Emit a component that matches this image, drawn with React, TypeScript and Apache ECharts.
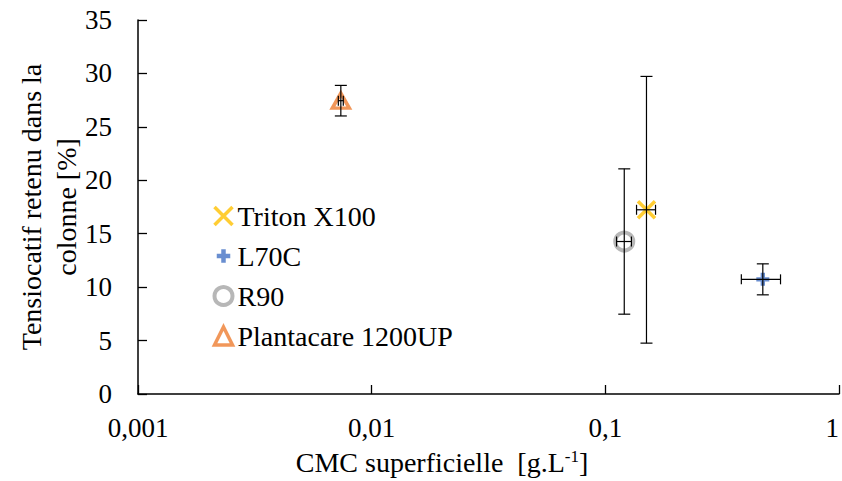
import React, { useEffect, useRef } from 'react';
import * as echarts from 'echarts';

// ---- Data ----
const seriesNames = ['Triton X100', 'L70C', 'R90', 'Plantacare 1200UP'];
const cmcValues = [0.15, 0.472, 0.1205, 0.00738]; // g/L (log x-axis)
const cmcErrors = [0.014, 0.09, 0.0088, 0.00018];
const retainedValues = [17.24, 10.73, 14.27, 27.45]; // %
const retainedErrors = [12.48, 1.45, 6.8, 1.43];
const seriesColors = ['#FFC000', '#4472C4', '#A5A5A5', '#ED7D31'];
const xTickLabels = ['0,001', '0,01', '0,1', '1'];
const yTickLabels = ['0', '5', '10', '15', '20', '25', '30', '35'];

const FONT = 'Liberation Serif';
const X_PATH = 'path://M0,0L10,10M10,0L0,10';
const PLUS_PATH = 'path://M-1,-3H1V-1H3V1H1V3H-1V1H-3V-1H-1Z';
const PLUS_ICON = 'path://M-4,-4M-1,-3H1V-1H3V1H1V3H-1V1H-3V-1H-1ZM4,4';

const symbolDefs = [
  { symbol: X_PATH, icon: X_PATH, size: 17 as any, style: { color: 'none', borderColor: seriesColors[0], borderWidth: 3.5 } },
  { symbol: PLUS_PATH, icon: PLUS_ICON, size: 13 as any, style: { color: seriesColors[1], borderWidth: 0 } },
  { symbol: 'circle', icon: 'circle', size: 18 as any, style: { color: 'none', borderColor: seriesColors[2], borderWidth: 4 } },
  { symbol: 'triangle', icon: 'triangle', size: [17, 15] as any, style: { color: 'none', borderColor: seriesColors[3], borderWidth: 3.5 } },
];

export default function App() {
  const ref = useRef<HTMLDivElement>(null);
  useEffect(() => {
    if (!ref.current) return;
    const chart = echarts.init(ref.current, null, { renderer: 'svg' });

    const scatterSeries = seriesNames.map((name, i) => ({
      type: 'scatter',
      name,
      data: [[cmcValues[i], retainedValues[i]]],
      symbol: symbolDefs[i].symbol,
      symbolSize: symbolDefs[i].size,
      itemStyle: symbolDefs[i].style,
      z: 2,
      silent: true,
    }));

    const errorSeries = {
      type: 'custom',
      name: 'errorBars',
      silent: true,
      z: 4,
      data: seriesNames.map((_, i) => [cmcValues[i], retainedValues[i], cmcErrors[i], retainedErrors[i]]),
      encode: { x: 0, y: 1 },
      renderItem: (params: any, api: any) => {
        const x = api.value(0);
        const y = api.value(1);
        const ex = api.value(2);
        const ey = api.value(3);
        const top = api.coord([x, y + ey]);
        const bot = api.coord([x, y - ey]);
        const left = api.coord([x - ex, y]);
        const right = api.coord([x + ex, y]);
        const cw = 6;
        const ch = 5;
        const st = () => ({ stroke: '#000', lineWidth: 1.2 });
        const children: any[] = [
          { type: 'line', shape: { x1: top[0], y1: top[1], x2: bot[0], y2: bot[1] }, style: st() },
          { type: 'line', shape: { x1: top[0] - cw, y1: top[1], x2: top[0] + cw, y2: top[1] }, style: st() },
          { type: 'line', shape: { x1: bot[0] - cw, y1: bot[1], x2: bot[0] + cw, y2: bot[1] }, style: st() },
          { type: 'line', shape: { x1: left[0], y1: left[1], x2: right[0], y2: right[1] }, style: st() },
          { type: 'line', shape: { x1: left[0], y1: left[1] - ch, x2: left[0], y2: left[1] + ch }, style: st() },
          { type: 'line', shape: { x1: right[0], y1: right[1] - ch, x2: right[0], y2: right[1] + ch }, style: st() },
        ];
        return { type: 'group', children };
      },
    };

    chart.setOption({
      animation: false,
      backgroundColor: '#fff',
      textStyle: { fontFamily: FONT },
      grid: { left: 138, right: 3, top: 20, bottom: 87, containLabel: false, outerBoundsMode: 'none' },
      legend: {
        orient: 'vertical',
        left: 207,
        top: 197,
        itemGap: 12,
        itemWidth: 18,
        itemHeight: 18,
        selectedMode: false,
        textStyle: { fontFamily: FONT, fontSize: 28, color: '#000' },
        data: seriesNames.map((name, i) => ({
          name,
          icon: symbolDefs[i].icon,
          itemStyle: symbolDefs[i].style,
        })),
      },
      xAxis: {
        type: 'log',
        logBase: 10,
        min: 0.001,
        max: 1,
        name: 'CMC superficielle  [g.L{sup|-1}]',
        nameLocation: 'middle',
        nameGap: 54,
        nameMoveOverlap: false,
        nameTextStyle: {
          fontFamily: FONT,
          fontSize: 28,
          color: '#000',
          lineHeight: 28,
          padding: [0, 93, 0, 0],
          rich: {
            sup: { fontFamily: FONT, fontSize: 17, color: '#000', verticalAlign: 'top', lineHeight: 17 },
          },
        },
        axisLine: { lineStyle: { color: '#000', width: 1.5 } },
        axisTick: { inside: true, length: 9, lineStyle: { color: '#000', width: 1.3 } },
        minorTick: { show: false },
        splitLine: { show: false },
        axisLabel: {
          fontFamily: FONT,
          fontSize: 27,
          color: '#000',
          margin: 20,
          alignMaxLabel: 'right',
          formatter: (v: number) => xTickLabels[Math.round(Math.log10(v)) + 3],
        },
      },
      yAxis: {
        type: 'value',
        min: 0,
        max: 35,
        interval: 5,
        name: 'Tensiocatif retenu dans la\ncolonne [%]',
        nameLocation: 'middle',
        nameGap: 54,
        nameMoveOverlap: false,
        nameTextStyle: { fontFamily: FONT, fontSize: 28, color: '#000', lineHeight: 35 },
        axisLine: { show: true, lineStyle: { color: '#000', width: 1.5 } },
        axisTick: { show: true, inside: true, length: 9, lineStyle: { color: '#000', width: 1.3 } },
        splitLine: { show: false },
        axisLabel: {
          fontFamily: FONT,
          fontSize: 27,
          color: '#000',
          margin: 26,
          formatter: (v: number) => yTickLabels[Math.round(v / 5)],
        },
      },
      series: [...scatterSeries, errorSeries],
    } as any);

    return () => chart.dispose();
  }, []);

  return (
    <div
      ref={ref}
      style={{ position: 'fixed', left: 0, top: 0, width: 842, height: 481 }}
    />
  );
}
